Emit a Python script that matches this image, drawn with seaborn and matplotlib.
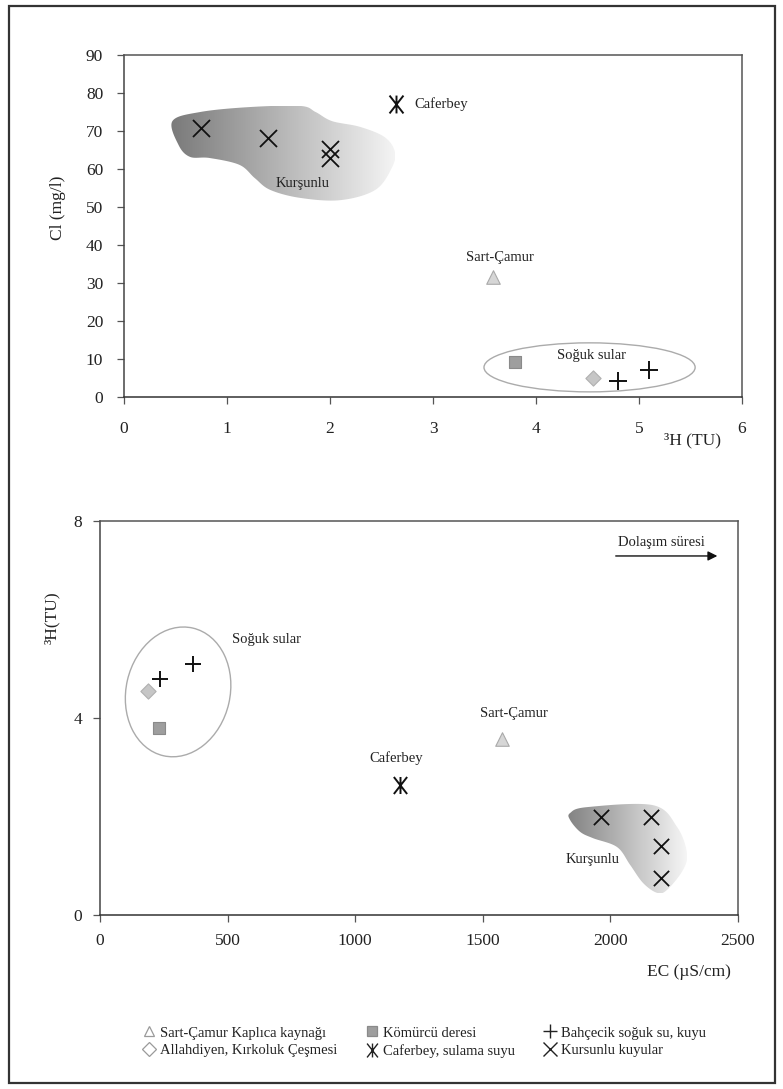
import numpy as np
import pandas as pd
import matplotlib
matplotlib.use("Agg")
import matplotlib.pyplot as plt
import seaborn as sns
from matplotlib.path import Path
from matplotlib.patches import PathPatch, Ellipse, Rectangle
from matplotlib.lines import Line2D
from matplotlib.colors import LinearSegmentedColormap
import matplotlib.transforms as mtransforms

# ---------------- data ----------------
group_names = ["Sart-Çamur Kaplıca kaynağı", "Allahdiyen, Kırkoluk Çeşmesi",
               "Kömürcü deresi", "Caferbey, sulama suyu",
               "Bahçecik soğuk su, kuyu", "Kursunlu kuyular"]
sample_group = ["Sart-Çamur Kaplıca kaynağı", "Allahdiyen, Kırkoluk Çeşmesi",
                "Kömürcü deresi", "Caferbey, sulama suyu",
                "Bahçecik soğuk su, kuyu", "Bahçecik soğuk su, kuyu",
                "Kursunlu kuyular", "Kursunlu kuyular", "Kursunlu kuyular", "Kursunlu kuyular"]
tritium_tu = [3.58, 4.55, 3.8, 2.64, 4.8, 5.1, 0.75, 1.4, 2.0, 2.0]
chloride_mgl = [31.6, 4.9, 9.1, 77.0, 4.2, 7.1, 70.9, 68.1, 65.2, 62.8]
ec_uscm = [1577, 190, 231, 1175, 235, 366, 2200, 2200, 1965, 2161]

x_ticks_top = [0, 1, 2, 3, 4, 5, 6]
y_ticks_top = [0, 10, 20, 30, 40, 50, 60, 70, 80, 90]
x_ticks_bot = [0, 500, 1000, 1500, 2000, 2500]
y_ticks_bot = [0, 4, 8]

df = pd.DataFrame({"group": sample_group, "H3": tritium_tu,
                   "Cl": chloride_mgl, "EC": ec_uscm})

# ---------------- style ----------------
sns.set_style("white")
plt.rcParams["font.family"] = ["Liberation Serif", "DejaVu Serif"]
plt.rcParams["text.color"] = "#222222"
plt.rcParams["xtick.color"] = "#222222"
plt.rcParams["ytick.color"] = "#222222"

# X with a vertical bar (asterisk-like glyph of the reference)
star_marker = Path([(0, -1), (0, 1), (-0.78, -1), (0.78, 1), (-0.78, 1), (0.78, -1)],
                   [Path.MOVETO, Path.LINETO, Path.MOVETO, Path.LINETO, Path.MOVETO, Path.LINETO])

marker_style = {
    "Sart-Çamur Kaplıca kaynağı": dict(marker="^", color="#d6d6d6", edgecolor="#a9a9a9", lw=0.8, kind="filled"),
    "Allahdiyen, Kırkoluk Çeşmesi": dict(marker="D", color="#c6c6c6", edgecolor="#b0b0b0", lw=0.8, kind="filled"),
    "Kömürcü deresi": dict(marker="s", color="#9e9e9e", edgecolor="#8a8a8a", lw=0.8, kind="filled"),
    "Caferbey, sulama suyu": dict(marker=star_marker, color="#111111", edgecolor="#111111", lw=1.4, kind="path"),
    "Bahçecik soğuk su, kuyu": dict(marker="+", color="#111111", edgecolor=None, lw=1.4, kind="line"),
    "Kursunlu kuyular": dict(marker="x", color="#111111", edgecolor=None, lw=1.3, kind="line"),
}
size_top = {"Sart-Çamur Kaplıca kaynağı": 95, "Allahdiyen, Kırkoluk Çeşmesi": 60,
            "Kömürcü deresi": 85, "Caferbey, sulama suyu": 165,
            "Bahçecik soğuk su, kuyu": 150, "Kursunlu kuyular": 150}
size_bot = {"Sart-Çamur Kaplıca kaynağı": 95, "Allahdiyen, Kırkoluk Çeşmesi": 60,
            "Kömürcü deresi": 85, "Caferbey, sulama suyu": 150,
            "Bahçecik soğuk su, kuyu": 125, "Kursunlu kuyular": 120}

W, H = 783, 1089
fig = plt.figure(figsize=(W / 100, H / 100), dpi=100)


def px_axes(l, t, r, b):
    return fig.add_axes([l / W, 1 - b / H, (r - l) / W, (b - t) / H])


def catmull(xs, ys, n=24):
    pts = np.column_stack([xs, ys])
    m = len(pts)
    out = []
    for i in range(m):
        p0, p1, p2, p3 = pts[(i - 1) % m], pts[i], pts[(i + 1) % m], pts[(i + 2) % m]
        for t in np.linspace(0, 1, n, endpoint=False):
            t2, t3 = t * t, t * t * t
            out.append(0.5 * ((2 * p1) + (-p0 + p2) * t + (2 * p0 - 5 * p1 + 4 * p2 - p3) * t2
                              + (-p0 + 3 * p1 - 3 * p2 + p3) * t3))
    out.append(out[0])
    return np.array(out)


def gradient_blob(ax, xs, ys, c0, c1):
    pts = catmull(xs, ys)
    codes = [Path.MOVETO] + [Path.LINETO] * (len(pts) - 2) + [Path.CLOSEPOLY]
    patch = PathPatch(Path(pts, codes), facecolor="none", edgecolor="none")
    ax.add_patch(patch)
    cmap = LinearSegmentedColormap.from_list("g", [c0, c1])
    grad = np.linspace(0, 1, 256).reshape(1, -1)
    im = ax.imshow(grad, cmap=cmap, aspect="auto", zorder=1,
                   extent=(pts[:, 0].min(), pts[:, 0].max(), pts[:, 1].min(), pts[:, 1].max()),
                   origin="lower", interpolation="bicubic")
    im.set_clip_path(patch)


def draw_points(ax, xcol, ycol, sizes):
    for g in group_names:
        sub = df[df["group"] == g]
        st = marker_style[g]
        kw = dict(data=sub, x=xcol, y=ycol, ax=ax, marker=st["marker"], s=sizes[g],
                  color=st["color"], linewidth=st["lw"], zorder=5, legend=False)
        if st["kind"] in ("filled", "path"):
            kw["edgecolor"] = st["edgecolor"]
        sns.scatterplot(**kw)


def style_axes(ax, xpad, ypad):
    for sp in ax.spines.values():
        sp.set_visible(True)
        sp.set_color("#555555")
        sp.set_linewidth(1.1)
    ax.spines["bottom"].set_color("#333333")
    ax.spines["left"].set_color("#444444")
    ax.tick_params(axis="x", direction="out", length=5, width=0.9, color="#555555",
                   labelsize=12.5, pad=xpad, bottom=True)
    ax.tick_params(axis="y", direction="out", length=5, width=0.9, color="#555555",
                   labelsize=12.5, pad=ypad, left=True)
    ax.set_xlabel("")
    ax.set_ylabel("")
    ax.grid(False)


# ---------------- top chart ----------------
ax1 = px_axes(124, 55, 742, 397)
gradient_blob(ax1,
              [0.47, 0.74, 1.22, 1.71, 1.86, 2.02, 2.29, 2.53, 2.63, 2.60, 2.44, 2.10, 1.71, 1.42, 1.27, 1.12, 0.83, 0.64, 0.53],
              [72.6, 75.0, 76.3, 76.6, 75.0, 72.6, 71.1, 68.4, 64.5, 60.3, 54.5, 51.8, 52.4, 54.5, 57.6, 61.1, 62.9, 63.2, 66.3],
              "#7a7a7a", "#f4f4f4")
ax1.add_patch(Ellipse((4.52, 7.8), width=2.05, height=12.9, fill=False,
                      edgecolor="#ababab", linewidth=1.0, zorder=3))
draw_points(ax1, "H3", "Cl", size_top)
ax1.set_xlim(0, 6)
ax1.set_ylim(0, 90)
ax1.set_xticks(x_ticks_top)
ax1.set_yticks(y_ticks_top)
style_axes(ax1, xpad=12, ypad=10)

ann = dict(fontsize=10.5, color="#222222", zorder=6)
ax1.text(2.82, 77.0, "Caferbey", ha="left", va="center", **ann)
ax1.text(1.73, 56.3, "Kurşunlu", ha="center", va="center", **ann)
ax1.text(3.65, 36.8, "Sart-Çamur", ha="center", va="center", **ann)
ax1.text(4.54, 11.0, "Soğuk sular", ha="center", va="center", **ann)

fig.text(58 / W, 1 - 208 / H, "Cl (mg/l)", rotation=90, ha="center", va="center", fontsize=12.5)
fig.text(692 / W, 1 - 440 / H, "³H (TU)", ha="center", va="center", fontsize=12.5)

# ---------------- bottom chart ----------------
ax2 = px_axes(100, 521, 738, 915)
gradient_blob(ax2,
              [1842, 1908, 2167, 2261, 2300, 2284, 2222, 2183, 2128, 2077, 2026, 1932, 1881, 1842],
              [2.07, 2.19, 2.23, 1.79, 1.26, 0.91, 0.51, 0.45, 0.65, 1.02, 1.38, 1.56, 1.69, 1.93],
              "#838383", "#f6f6f6")
draw_points(ax2, "EC", "H3", size_bot)
ax2.set_xlim(0, 2500)
ax2.set_ylim(0, 8)
ax2.set_xticks(x_ticks_bot)
ax2.set_yticks(y_ticks_bot)
style_axes(ax2, xpad=8, ypad=8)
ax2.add_patch(Ellipse((0, 0), width=1.31, height=1.04, angle=77, fill=False,
                      edgecolor="#ababab", linewidth=1.0, zorder=3,
                      transform=fig.dpi_scale_trans + mtransforms.ScaledTranslation(306, 4.53, ax2.transData)))

ax2.text(517, 5.6, "Soğuk sular", ha="left", va="center", **ann)
ax2.text(1622, 4.1, "Sart-Çamur", ha="center", va="center", **ann)
ax2.text(1160, 3.18, "Caferbey", ha="center", va="center", **ann)
ax2.text(1932, 1.12, "Kurşunlu", ha="center", va="center", **ann)
ax2.text(2200, 7.57, "Dolaşım süresi", ha="center", va="center", **ann)
ax2.annotate("", xy=(2430, 7.29), xytext=(2010, 7.29),
             arrowprops=dict(arrowstyle="-|>", color="#111111", lw=1.0, mutation_scale=14))

fig.text(52 / W, 1 - 618 / H, "³H(TU)", rotation=90, ha="center", va="center", fontsize=12.5)
fig.text(689 / W, 1 - 972 / H, "EC (µS/cm)", ha="center", va="center", fontsize=12.5)

# ---------------- legend ----------------
handles = []
for g in group_names:
    st = marker_style[g]
    if st["kind"] == "filled":
        h = Line2D([], [], linestyle="none", marker=st["marker"], markersize=7,
                   markerfacecolor=st["color"] if st["marker"] == "s" else "white",
                   markeredgecolor=st["edgecolor"] if st["marker"] == "s" else "#9a9a9a",
                   markeredgewidth=0.9)
    else:
        h = Line2D([], [], linestyle="none", marker=st["marker"], markersize=10,
                   color="#222222", markeredgewidth=1.0)
    handles.append(h)
fig.legend(handles, group_names, ncol=3, frameon=False, fontsize=10.5,
           loc="center", bbox_to_anchor=(424 / W, 1 - 1042 / H),
           handletextpad=0.25, columnspacing=1.9, labelspacing=0.3, handlelength=1.0)

# outer frame
fig.patches.append(Rectangle((9 / W, 1 - 1083 / H), (775 - 9) / W, (1083 - 6) / H,
                             transform=fig.transFigure, fill=False,
                             edgecolor="#333333", linewidth=1.6))

fig.savefig("out.png", dpi=100)
